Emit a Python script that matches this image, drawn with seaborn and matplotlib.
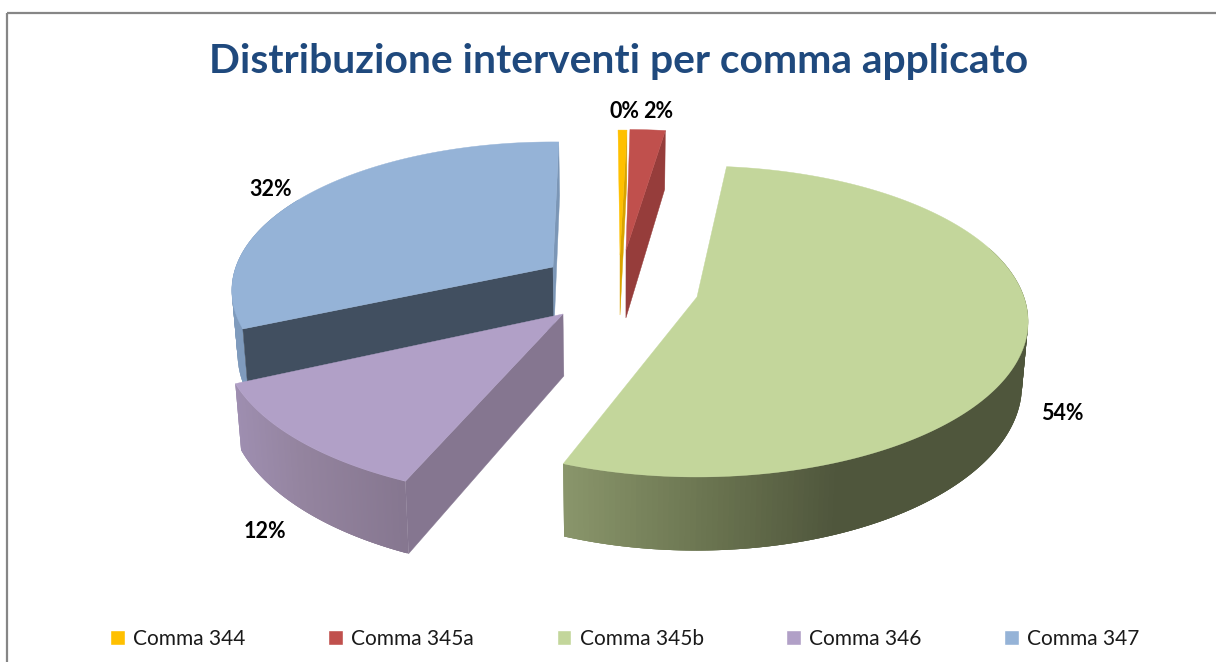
import matplotlib
matplotlib.use("Agg")
import matplotlib.colors as mcolors
import matplotlib.patches as mpatches
import matplotlib.pyplot as plt
import numpy as np
import seaborn as sns

# data
categories = ["Comma 344", "Comma 345a", "Comma 345b", "Comma 346", "Comma 347"]
shares = [0.5, 2, 54, 11.6, 31.9]

# office 2007 colours
top_colors = ["#ffc000", "#c0504d", "#c3d69b", "#b1a0c7", "#95b3d7"]
start_cut_colors = [None, None, None, "#857690", "#414f60"]
end_cut_colors = ["#d9a300", "#963d3b", None, None, "#7b96b6"]

# every slice was dragged around by hand in the original, so each has its own placement
apex_x = [620, 626, 697, 563, 553]
apex_y = [255, 250, 297, 314, 267]
turn = [2.6, 2.0, 0, 3.2, 4.2]
stretch_x = [1.0, 1.0, 1.0, 1.03, 0.97]
stretch_y = [0.954, 0.92, 1.0, 1.03, 0.955]
depth = [60, 68, 62, 62, 62]
label_x = [624, 658, 1062, 265, 271]
label_y = [111, 111, 413, 531, 190]

# rim shading, colour by screen x
rim_range = [None, None, (70, 215), (195, 250), (240, 300)]
rim_stops = [
    None,
    None,
    ([565, 700, 840, 1030], ["#8a966c", "#6d7752", "#4f563c", "#4f563c"]),
    ([236, 300, 410], ["#9e8eb0", "#94849f", "#85768f"]),
    ([230, 250], ["#7f9bbd", "#7f9bbd"]),
]

PERSP = 0.1576
RX = 327
RY = 151.6
VANISH_X = 620
BOTTOM_SHRINK = 0.985


def project(i, clock_deg, radius=1.0, z=0.0):
    # clock_deg: degrees clockwise from the top of the pie
    a = np.radians(np.asarray(clock_deg, dtype=float))
    x = radius * np.sin(a)
    y = radius * np.cos(a)
    w = 1 + PERSP * y
    sx = apex_x[i] + stretch_x[i] * RX * x / w
    sy = apex_y[i] - stretch_y[i] * RY * y / w
    sx = VANISH_X + (sx - VANISH_X) * (1 - (1 - BOTTOM_SHRINK) * z)
    return sx, sy + depth[i] * z / w


def rim_color(i, x):
    xs, cols = rim_stops[i]
    rgb = np.array([mcolors.to_rgb(c) for c in cols])
    return [np.interp(x, xs, rgb[:, k]) for k in range(3)]


def draw_cut(ax, i, ang, color):
    x0, y0 = project(i, ang, 0.0, 0)
    x1, y1 = project(i, ang, 1.0, 0)
    x2, y2 = project(i, ang, 1.0, 1)
    x3, y3 = project(i, ang, 0.0, 1)
    ax.fill([x0, x1, x2, x3], [y0, y1, y2, y3], color=color, lw=0.3)


sns.set_theme(style="white")
plt.rcParams["font.family"] = ["Lato", "DejaVu Sans"]

fig, ax = plt.subplots(figsize=(12.16, 6.62), dpi=100)
fig.subplots_adjust(left=0, right=1, top=1, bottom=0)

palette = sns.color_palette(top_colors)
wedges, _, pct_texts = ax.pie(shares, colors=palette, startangle=93, counterclock=False,
                              autopct="%.0f%%", textprops={"fontsize": 15.5, "fontweight": "bold", "color": "black"})
ax.set_aspect("auto")
ax.set_xlim(0, 1216)
ax.set_ylim(662, 0)
ax.axis("off")

# legend has to be made while the wedges are still visible
ax.legend(wedges, categories, ncol=5, frameon=False, loc="center",
          bbox_to_anchor=(625, 639), bbox_transform=ax.transData,
          fontsize=15, handlelength=0.7, handleheight=0.7, handletextpad=0.42,
          columnspacing=3.95, labelcolor="#1a1a1a")

for i in [4, 3, 2, 1, 0]:
    w = wedges[i]
    # pie gives counter clockwise angles from the +x axis
    start = 90 - w.theta2 + turn[i]
    end = 90 - w.theta1 + turn[i]
    w.set_visible(False)

    if rim_range[i] is not None:
        lo = max(rim_range[i][0], start)
        hi = min(rim_range[i][1], end)
        steps = np.linspace(lo, hi, 161)
        # each strip runs over the next one, no seams that way
        for n in range(len(steps) - 1):
            a = steps[n]
            b = steps[min(n + 3, len(steps) - 1)]
            x0, y0 = project(i, a, 1.0, 0)
            x1, y1 = project(i, b, 1.0, 0)
            x2, y2 = project(i, b, 1.0, 1)
            x3, y3 = project(i, a, 1.0, 1)
            ax.fill([x0, x1, x2, x3], [y0, y1, y2, y3], color=rim_color(i, x0), lw=0)

    if start_cut_colors[i] is not None:
        draw_cut(ax, i, start, start_cut_colors[i])
    if end_cut_colors[i] is not None:
        draw_cut(ax, i, end, end_cut_colors[i])

    arc = np.linspace(start, end, 200)
    xs, ys = project(i, arc)
    ax.fill(np.r_[apex_x[i], xs], np.r_[apex_y[i], ys], color=top_colors[i], lw=0.3)

    pct_texts[i].set_position((label_x[i], label_y[i]))
    pct_texts[i].set_zorder(10)

ax.text(619, 61, "Distribuzione interventi per comma applicato", ha="center", va="center",
        fontsize=29.3, fontweight="bold", color="#1f497d")

# chart area border, runs off the right and bottom of the picture
ax.add_patch(mpatches.Rectangle((6.5, 12.5), 1300, 800, fill=False, ec="#868686", lw=1.6))

fig.savefig("out.png", dpi=100)
